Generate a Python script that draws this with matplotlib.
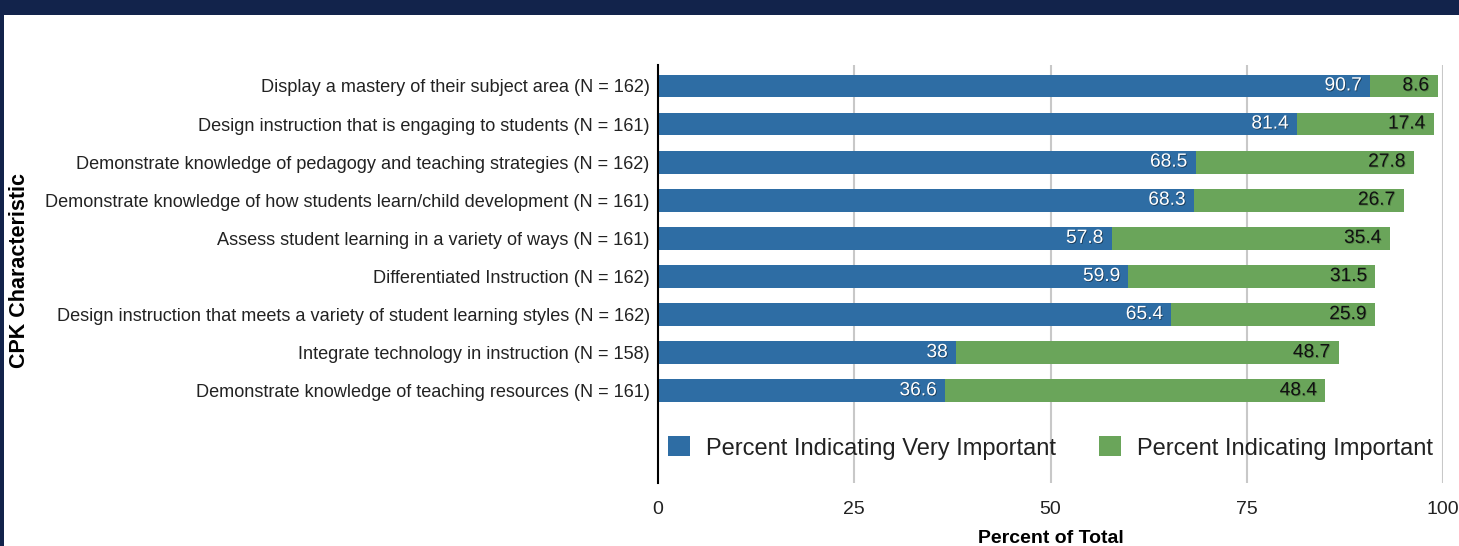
import matplotlib.pyplot as plt
import matplotlib.patheffects as pe
from matplotlib.patches import Rectangle

plt.rcParams['font.family'] = ['Liberation Sans', 'DejaVu Sans']

categories = [
    "Display a mastery of their subject area (N = 162)",
    "Design instruction that is engaging to students (N = 161)",
    "Demonstrate knowledge of pedagogy and teaching strategies (N = 162)",
    "Demonstrate knowledge of how students learn/child development (N = 161)",
    "Assess student learning in a variety of ways (N = 161)",
    "Differentiated Instruction (N = 162)",
    "Design instruction that meets a variety of student learning styles (N = 162)",
    "Integrate technology in instruction (N = 158)",
    "Demonstrate knowledge of teaching resources (N = 161)",
]
very_important = [90.7, 81.4, 68.5, 68.3, 57.8, 59.9, 65.4, 38, 36.6]
important = [8.6, 17.4, 27.8, 26.7, 35.4, 31.5, 25.9, 48.7, 48.4]
series_names = ["Percent Indicating Very Important", "Percent Indicating Important"]
xticks = [0, 25, 50, 75, 100]

BLUE = '#2e6da4'
GREEN = '#6aa55a'
NAVY = '#12234b'

W, H = 1459, 546
fig = plt.figure(figsize=(W / 100, H / 100), dpi=100)
fig.patch.set_facecolor('white')
# dark frame: band across the top and a thin strip on the left
fig.add_artist(Rectangle((0, 1 - 15 / H), 1, 15 / H, transform=fig.transFigure,
                         facecolor=NAVY, edgecolor='none', zorder=-1))
fig.add_artist(Rectangle((0, 0), 4 / W, 1, transform=fig.transFigure,
                         facecolor=NAVY, edgecolor='none', zorder=-1))

ax = fig.add_axes([658 / W, 1 - 483 / H, (1443 - 658) / W, (483 - 65) / H])

ypos = list(range(len(categories)))
h = 0.6
ax.barh(ypos, very_important, height=h, color=BLUE, label=series_names[0], zorder=2)
ax.barh(ypos, important, left=very_important, height=h, color=GREEN,
        label=series_names[1], zorder=2)

shadow_w = [pe.SimplePatchShadow(offset=(0.6, -0.6), shadow_rgbFace='black', alpha=0.45), pe.Normal()]
shadow_k = [pe.SimplePatchShadow(offset=(0.6, -0.6), shadow_rgbFace='#1e3a1a', alpha=0.35), pe.Normal()]
for y, v, w in zip(ypos, very_important, important):
    ax.annotate(f"{v:g}", (v, y), xytext=(-6, 0), textcoords='offset points',
                ha='right', va='center', color='white', fontsize=13.8,
                path_effects=shadow_w, zorder=3)
    ax.annotate(f"{w:g}", (v + w, y), xytext=(-6, 0), textcoords='offset points',
                ha='right', va='center', color='#111111', fontsize=13.8,
                path_effects=shadow_k, zorder=3)

ax.set_xlim(0, 100)
ax.set_ylim(10.42, -0.55)
ax.set_yticks(ypos)
ax.set_yticklabels(categories, fontsize=13.1, color='#222222')
ax.set_xticks(xticks)
ax.set_xticklabels([str(t) for t in xticks], fontsize=14, color='#222222')
ax.tick_params(axis='both', length=0)
ax.tick_params(axis='y', pad=6)
ax.tick_params(axis='x', pad=13)

for t in xticks[1:]:
    ax.axvline(t, color='#c8c8c8', lw=1.5, zorder=1)

for s in ['top', 'right', 'bottom']:
    ax.spines[s].set_visible(False)
ax.spines['left'].set_color('black')
ax.spines['left'].set_linewidth(1.5)

ax.set_xlabel("Percent of Total", fontsize=14, fontweight='bold', labelpad=8.5)
fig.text(20 / W, 1 - 270 / H, "CPK Characteristic", rotation=90, fontsize=15.5,
         fontweight='bold', ha='center', va='center')

ax.legend(loc='center', bbox_to_anchor=(0.5, (483 - 448) / 418), ncol=2,
          frameon=False, fontsize=17, handlelength=0.93, handleheight=0.93,
          handletextpad=0.68, columnspacing=1.82, labelcolor='#222222')

fig.savefig("out.png", dpi=100, facecolor=fig.get_facecolor())
